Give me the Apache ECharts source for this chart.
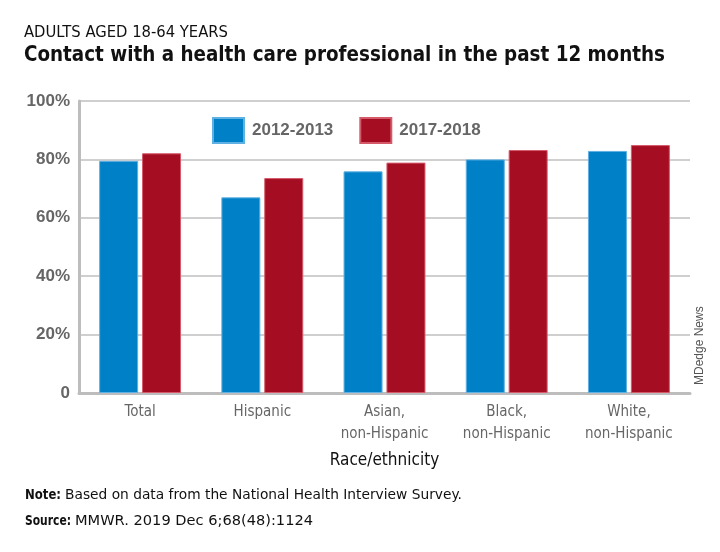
<!DOCTYPE html>
<html><head><meta charset="utf-8">
<script src="https://cdn.jsdelivr.net/npm/echarts@6/dist/echarts.min.js"></script>
<style>html,body{margin:0;padding:0;background:#fff}#c{width:720px;height:552px}</style>
</head><body><div id="c"></div>
<script>
const categories = ['Total', 'Hispanic', 'Asian,\nnon-Hispanic', 'Black,\nnon-Hispanic', 'White,\nnon-Hispanic'];
const series2012 = [79.5, 67.0, 75.9, 80.0, 82.9];
const series2017 = [82.1, 73.6, 78.9, 83.2, 84.9];
const seriesNames = ['2012-2013', '2017-2018'];
const yTicks = [0, 20, 40, 60, 80, 100];
const subtitleText = 'ADULTS AGED 18-64 YEARS';
const titleText = 'Contact with a health care professional in the past 12 months';
const noteLabel = 'Note:';
const noteText = 'Based on data from the National Health Interview Survey.';
const sourceLabel = 'Source:';
const sourceText = 'MMWR. 2019 Dec 6;68(48):1124';
const creditText = 'MDedge News';

const COND = '"DejaVu Sans Condensed", "Liberation Sans Narrow", sans-serif';
const DEJA = '"DejaVu Sans", sans-serif';
const SANS = '"Liberation Sans", Arial, sans-serif';

const ctx = document.createElement('canvas').getContext('2d');
function fitText(text, family, x, y, size, weight, target, color) {
  ctx.font = weight + ' ' + size + 'px ' + family;
  const s = target / ctx.measureText(text).width;
  return { type: 'text', x: x, y: y, scaleX: s, scaleY: 1, originX: 0, originY: 0, silent: true,
    style: { text: text, fontFamily: family, fontSize: size, fontWeight: weight, fill: color || '#111', verticalAlign: 'top', align: 'left' } };
}

const chart = echarts.init(document.getElementById('c'));
chart.setOption({
  animation: false,
  backgroundColor: '#fff',
  graphic: [
    fitText(subtitleText, COND, 24, 25, 16, 'normal', 204),
    fitText(titleText, COND, 24, 45, 21, 'bold', 641),
    fitText(noteLabel, COND, 25, 488, 14.5, 'bold', 36),
    fitText(noteText, DEJA, 65, 488, 14, 'normal', 397),
    fitText(sourceLabel, COND, 25, 514, 14.5, 'bold', 46),
    fitText(sourceText, DEJA, 75, 514, 14, 'normal', 238),
    { type: 'text', x: 694, y: 385, rotation: Math.PI / 2, silent: true,
      style: { text: creditText, fontFamily: SANS, fontSize: 12, fill: '#555', align: 'left', verticalAlign: 'top' } }
  ],
  legend: {
    data: seriesNames,
    left: 212, top: 117, padding: 0,
    itemWidth: 31, itemHeight: 25, itemGap: 26,
    textStyle: { fontFamily: SANS, fontSize: 17, fontWeight: 'bold', color: '#666', padding: [0, 0, 0, 3] },
    icon: 'rect'
  },
  grid: { left: 79, right: 30, top: 101, bottom: 159, containLabel: false },
  xAxis: {
    type: 'category',
    data: categories,
    name: 'Race/ethnicity',
    nameLocation: 'middle',
    nameGap: 59,
    nameTextStyle: { fontFamily: COND, fontSize: 17, color: '#111' },
    axisLine: { lineStyle: { color: '#bdbdbd', width: 3 } },
    axisTick: { show: false },
    axisLabel: { interval: 0, fontFamily: COND, fontSize: 15, color: '#666', margin: 8, lineHeight: 22 }
  },
  yAxis: {
    type: 'value', min: 0, max: 100, interval: 20,
    axisLine: { show: true, lineStyle: { color: '#bdbdbd', width: 3 } },
    axisTick: { show: false },
    splitLine: { lineStyle: { color: '#cfcfcf', width: 2 } },
    axisLabel: {
      fontFamily: SANS, fontSize: 17, fontWeight: 'bold', color: '#666', margin: 9,
      formatter: v => yTicks.includes(v) ? (v === 0 ? '0' : v + '%') : ''
    }
  },
  series: [
    { name: seriesNames[0], type: 'bar', data: series2012, barWidth: 39, barGap: '10%',
      itemStyle: { color: '#0080c6', borderColor: '#5fb0e3', borderWidth: 1 } },
    { name: seriesNames[1], type: 'bar', data: series2017, barWidth: 39,
      itemStyle: { color: '#a50d22', borderColor: '#d45a6a', borderWidth: 1 } }
  ]
});
</script></body></html>
